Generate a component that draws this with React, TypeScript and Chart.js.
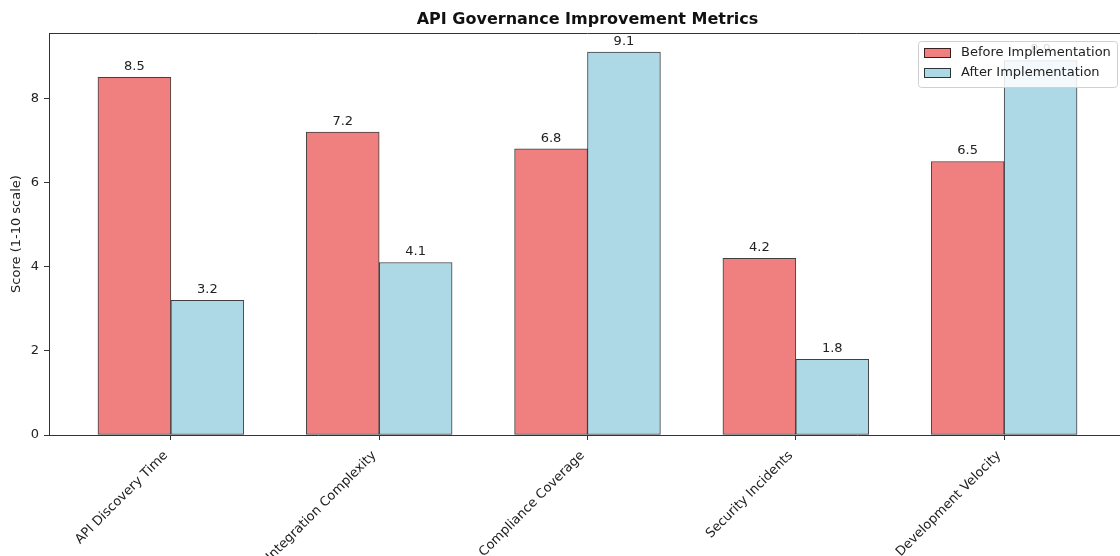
import React, { useEffect, useRef } from "react";
import { Chart, registerables } from "chart.js";

Chart.register(...registerables);

// ---- data ----
const categories = [
  "API Discovery Time",
  "Integration Complexity",
  "Compliance Coverage",
  "Security Incidents",
  "Development Velocity",
];
const beforeScores = [8.5, 7.2, 6.8, 4.2, 6.5];
const afterScores = [3.2, 4.1, 9.1, 1.8, 8.9];
const seriesNames = ["Before Implementation", "After Implementation"];
const yTickValues = [0, 2, 4, 6, 8];
const chartTitle = "API Governance Improvement Metrics";
const yAxisTitle = "Score (1-10 scale)";

// ---- styling ----
const FONT = "'DejaVu Sans', Verdana, sans-serif";
const BAR_W = 0.35;
const RED = "#F08080";
const BLUE = "#ADD8E6";
const EDGE = "rgba(0,0,0,0.75)";
const SPINE = "#333333";
const TEXT = "#222222";

const CANVAS_W = 1140;
const CANVAS_H = 556;

const decorPlugin = {
  id: "decor",
  afterDatasetsDraw(chart: any) {
    const { ctx, chartArea, scales } = chart;
    const y = scales.y;
    ctx.save();

    // top and right spines
    ctx.strokeStyle = SPINE;
    ctx.lineWidth = 1;
    ctx.beginPath();
    ctx.moveTo(chartArea.left, chartArea.top + 0.5);
    ctx.lineTo(chartArea.right, chartArea.top + 0.5);
    ctx.moveTo(chartArea.right - 0.5, chartArea.top);
    ctx.lineTo(chartArea.right - 0.5, chartArea.bottom);
    ctx.stroke();

    // value labels above each bar
    ctx.fillStyle = TEXT;
    ctx.font = `13px ${FONT}`;
    ctx.textAlign = "center";
    ctx.textBaseline = "bottom";
    const sets = [beforeScores, afterScores];
    sets.forEach((vals, di) => {
      const meta = chart.getDatasetMeta(di);
      meta.data.forEach((bar: any, i: number) => {
        const v = vals[i];
        ctx.fillText(v.toFixed(1), bar.x, y.getPixelForValue(v + 0.1));
      });
    });

    // title
    ctx.font = `bold 16px ${FONT}`;
    ctx.fillStyle = "#111";
    ctx.textBaseline = "middle";
    ctx.fillText(chartTitle, (chartArea.left + chartArea.right) / 2, 20);

    // y axis title
    ctx.save();
    ctx.translate(17, (chartArea.top + chartArea.bottom) / 2);
    ctx.rotate(-Math.PI / 2);
    ctx.font = `13px ${FONT}`;
    ctx.fillStyle = TEXT;
    ctx.textAlign = "center";
    ctx.textBaseline = "middle";
    ctx.fillText(yAxisTitle, 0, 0);
    ctx.restore();

    // legend
    const lx = chartArea.right - 208;
    const ly = chartArea.top + 8;
    const lw = 199;
    const lh = 46;
    ctx.beginPath();
    if (ctx.roundRect) ctx.roundRect(lx + 0.5, ly + 0.5, lw, lh, 3);
    else ctx.rect(lx + 0.5, ly + 0.5, lw, lh);
    ctx.fillStyle = "rgba(255,255,255,0.85)";
    ctx.fill();
    ctx.strokeStyle = "#d0d0d0";
    ctx.lineWidth = 1;
    ctx.stroke();

    const colors = [RED, BLUE];
    ctx.font = `13px ${FONT}`;
    ctx.textAlign = "left";
    ctx.textBaseline = "middle";
    seriesNames.forEach((name, i) => {
      const cy = ly + 12 + i * 20;
      ctx.fillStyle = colors[i];
      ctx.fillRect(lx + 6, cy - 5, 27, 10);
      ctx.strokeStyle = EDGE;
      ctx.strokeRect(lx + 6.5, cy - 4.5, 26, 9);
      ctx.fillStyle = TEXT;
      ctx.fillText(name, lx + 43, cy);
    });

    ctx.restore();
  },
};

export default function App() {
  const canvasRef = useRef<HTMLCanvasElement | null>(null);

  useEffect(() => {
    const canvas = canvasRef.current;
    if (!canvas) return;

    const before = categories.map((_, i) => ({ x: i - BAR_W / 2, y: beforeScores[i] }));
    const after = categories.map((_, i) => ({ x: i + BAR_W / 2, y: afterScores[i] }));
    const yMax = Math.max(...beforeScores, ...afterScores) * 1.05;
    const xPad = (categories.length - 1 + 2 * BAR_W) * 0.05;

    const chart = new Chart(canvas, {
      type: "bar",
      data: {
        datasets: [
          {
            label: seriesNames[0],
            data: before,
            backgroundColor: RED,
            borderColor: EDGE,
            borderWidth: 1,
            borderSkipped: false,
            grouped: false,
            categoryPercentage: 1,
            barPercentage: 1,
          },
          {
            label: seriesNames[1],
            data: after,
            backgroundColor: BLUE,
            borderColor: EDGE,
            borderWidth: 1,
            borderSkipped: false,
            grouped: false,
            categoryPercentage: 1,
            barPercentage: 1,
          },
        ],
      },
      options: {
        animation: false,
        responsive: false,
        devicePixelRatio: 1,
        layout: { padding: { left: 0, right: 14, top: 33, bottom: 0 } },
        plugins: {
          legend: { display: false },
          title: { display: false },
          tooltip: { enabled: false },
        },
        scales: {
          x: {
            type: "linear",
            offset: false,
            min: -BAR_W - xPad,
            max: categories.length - 1 + BAR_W + xPad,
            grid: {
              offset: false,
              drawOnChartArea: false,
              drawTicks: true,
              tickLength: 5,
              tickColor: SPINE,
            },
            border: { display: true, color: SPINE, width: 1 },
            afterBuildTicks: (scale: any) => {
              scale.ticks = categories.map((_, i) => ({ value: i }));
            },
            afterFit: (scale: any) => {
              scale.height = 121;
            },
            ticks: {
              autoSkip: false,
              minRotation: 45,
              maxRotation: 45,
              padding: 8,
              labelOffset: -5,
              color: TEXT,
              font: { family: FONT, size: 13 },
              callback: (value: any) => categories[Math.round(Number(value))] ?? "",
            },
          },
          y: {
            min: 0,
            max: yMax,
            grid: {
              drawOnChartArea: false,
              drawTicks: true,
              tickLength: 5,
              tickColor: SPINE,
            },
            border: { display: true, color: SPINE, width: 1 },
            afterBuildTicks: (scale: any) => {
              scale.ticks = yTickValues.map((v) => ({ value: v }));
            },
            afterFit: (scale: any) => {
              scale.width = 49;
            },
            ticks: {
              padding: 5,
              color: TEXT,
              font: { family: FONT, size: 13 },
              callback: (value: any) => String(value),
            },
          },
        },
      },
      plugins: [decorPlugin],
    });

    return () => chart.destroy();
  }, []);

  return (
    <div
      style={{
        position: "absolute",
        left: 0,
        top: 0,
        width: 1120,
        height: 556,
        overflow: "hidden",
        background: "#ffffff",
      }}
    >
      <canvas
        ref={canvasRef}
        width={CANVAS_W}
        height={CANVAS_H}
        style={{ display: "block", width: CANVAS_W, height: CANVAS_H }}
      />
    </div>
  );
}
